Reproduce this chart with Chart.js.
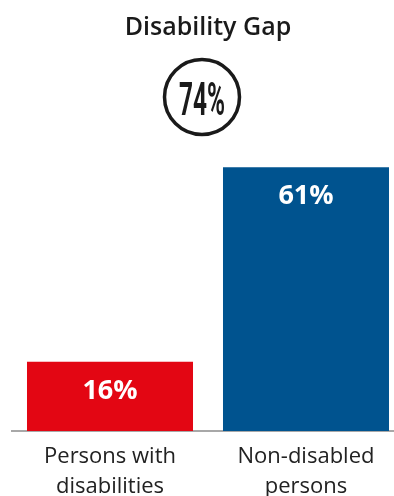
<!DOCTYPE html>
<html>
<head>
<meta charset="utf-8">
<script src="https://cdn.jsdelivr.net/npm/chart.js@4.4.1/dist/chart.umd.min.js"></script>
<style>
  html, body { margin: 0; padding: 0; background: #fff; overflow: hidden; }
  #wrap { width: 404px; height: 510px; position: relative; }
</style>
</head>
<body>
<div id="wrap"><canvas id="gapChart"></canvas></div>
<script>
// Employment rates by group
const categories = [['Persons with', 'disabilities'], ['Non-disabled', 'persons']];
const rates = [16, 61];
const barColors = ['#e30613', '#00538f'];
const gapLabel = '74%';

// White percentage inside each bar, near its top
const valueLabels = {
    id: 'valueLabels',
    afterDatasetsDraw(chart) {
        const ctx = chart.ctx;
        const meta = chart.getDatasetMeta(0);
        ctx.save();
        ctx.fillStyle = '#fff';
        ctx.font = '700 27px "Open Sans"';
        ctx.textAlign = 'center';
        ctx.textBaseline = 'middle';
        meta.data.forEach((bar, i) => {
            ctx.fillText(rates[i] + '%', bar.x, bar.y + 29);
        });
        ctx.restore();
    }
};

// Ringed gap figure under the title
const gapBadge = {
    id: 'gapBadge',
    afterDraw(chart) {
        const ctx = chart.ctx;
        const cx = chart.width / 2;
        const cy = 97;
        ctx.save();
        ctx.beginPath();
        ctx.arc(cx, cy, 37.5, 0, Math.PI * 2);
        ctx.lineWidth = 3.5;
        ctx.strokeStyle = '#1a1a1a';
        ctx.stroke();

        ctx.font = '700 46px Roboto';
        ctx.textAlign = 'center';
        ctx.textBaseline = 'alphabetic';
        const w = ctx.measureText(gapLabel).width;
        ctx.translate(cx, cy + 18);
        ctx.scale(46 / w, 1);
        ctx.fillStyle = '#1a1a1a';
        ctx.fillText(gapLabel, 0, 0);
        ctx.restore();
    }
};

new Chart(document.getElementById('gapChart'), {
    type: 'bar',
    data: {
        labels: categories,
        datasets: [{
            data: rates,
            backgroundColor: barColors,
            borderWidth: 0,
            barPercentage: 1,
            categoryPercentage: 0.847
        }]
    },
    options: {
        responsive: true,
        maintainAspectRatio: false,
        animation: false,
        layout: { padding: { left: 12, right: 0, top: 0, bottom: 0 } },
        plugins: {
            legend: { display: false },
            tooltip: { enabled: false },
            title: {
                display: true,
                text: 'Disability Gap',
                color: '#1a1a1a',
                font: { family: 'Open Sans', size: 25, weight: '600', lineHeight: 1.2 },
                padding: { top: 13, bottom: 107 }
            }
        },
        scales: {
            x: {
                grid: { display: false, drawTicks: false },
                border: { display: true, color: '#a8a8a8', width: 2 },
                ticks: {
                    color: '#222',
                    padding: 10,
                    font: { family: 'Open Sans', size: 22, lineHeight: 1.4 }
                },
                afterFit(scale) { scale.height = 79; }
            },
            y: {
                display: false,
                min: 0,
                max: 65
            }
        }
    },
    plugins: [valueLabels, gapBadge]
});
</script>
</body>
</html>
